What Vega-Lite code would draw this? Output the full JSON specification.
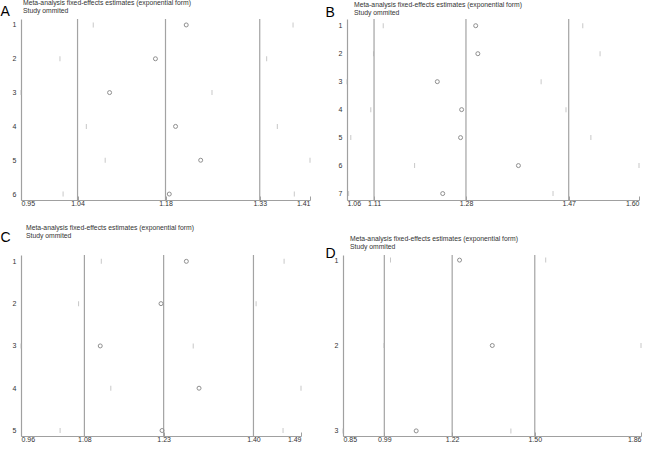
{
  "$schema": "https://vega.github.io/schema/vega-lite/v6.json",
  "padding": 0,
  "background": "white",
  "datasets": {
    "A": [
      {"study": 1, "lower": 1.065, "est": 1.213, "upper": 1.383},
      {"study": 2, "lower": 1.012, "est": 1.164, "upper": 1.341},
      {"study": 3, "lower": 0.95, "est": 1.091, "upper": 1.254},
      {"study": 4, "lower": 1.054, "est": 1.196, "upper": 1.358},
      {"study": 5, "lower": 1.084, "est": 1.236, "upper": 1.41},
      {"study": 6, "lower": 1.017, "est": 1.186, "upper": 1.385}
    ],
    "Aref": [{"ref": 1.04}, {"ref": 1.18}, {"ref": 1.33}],
    "B": [
      {"study": 1, "lower": 1.127, "est": 1.298, "upper": 1.496},
      {"study": 2, "lower": 1.109, "est": 1.302, "upper": 1.528},
      {"study": 3, "lower": 1.06, "est": 1.227, "upper": 1.419},
      {"study": 4, "lower": 1.104, "est": 1.272, "upper": 1.465},
      {"study": 5, "lower": 1.067, "est": 1.27, "upper": 1.511},
      {"study": 6, "lower": 1.185, "est": 1.377, "upper": 1.6},
      {"study": 7, "lower": 1.063, "est": 1.237, "upper": 1.441}
    ],
    "Bref": [{"ref": 1.11}, {"ref": 1.28}, {"ref": 1.47}],
    "C": [
      {"study": 1, "lower": 1.112, "est": 1.273, "upper": 1.458},
      {"study": 2, "lower": 1.069, "est": 1.225, "upper": 1.405},
      {"study": 3, "lower": 0.96, "est": 1.11, "upper": 1.286},
      {"study": 4, "lower": 1.13, "est": 1.297, "upper": 1.49},
      {"study": 5, "lower": 1.034, "est": 1.227, "upper": 1.456}
    ],
    "Cref": [{"ref": 1.08}, {"ref": 1.23}, {"ref": 1.4}],
    "D": [
      {"study": 1, "lower": 1.011, "est": 1.245, "upper": 1.537},
      {"study": 2, "lower": 0.989, "est": 1.356, "upper": 1.86},
      {"study": 3, "lower": 0.85, "est": 1.098, "upper": 1.419}
    ],
    "Dref": [{"ref": 0.99}, {"ref": 1.22}, {"ref": 1.5}]
  },
  "spacing": 19,
  "vconcat": [
    {
      "bounds": "flush",
      "spacing": 37,
      "hconcat": [
        {
          "width": 289, "height": 181,
          "title": {"text": "Meta-analysis fixed-effects estimates (exponential form)", "subtitle": "Study ommited", "dx": 2, "offset": -11},
          "layer": [
            {"data": {"name": "Aref"}, "mark": {"type": "rule", "color": "#a3a3a3", "strokeWidth": 1.2},
             "encoding": {"x": {"field": "ref", "type": "quantitative", "scale": {"domain": [0.95, 1.41], "nice": false, "zero": false},
               "axis": {"values": [0.95, 1.04, 1.18, 1.33, 1.41], "format": ".2f", "title": null}}}},
            {"data": {"name": "A"}, "mark": {"type": "tick", "orient": "vertical", "size": 5, "thickness": 1, "color": "#b0b0b0"},
             "encoding": {"x": {"field": "lower", "type": "quantitative"},
               "y": {"field": "study", "type": "quantitative", "scale": {"domain": [0.824, 6.176], "reverse": true, "nice": false, "zero": false},
                 "axis": {"values": [1, 2, 3, 4, 5, 6], "format": "d", "labelOverlap": false, "title": "A", "titleX": -21, "titleY": -4}}}},
            {"data": {"name": "A"}, "mark": {"type": "tick", "orient": "vertical", "size": 5, "thickness": 1, "color": "#b0b0b0"},
             "encoding": {"x": {"field": "upper", "type": "quantitative"},
               "y": {"field": "study", "type": "quantitative", "axis": {"values": [1, 2, 3, 4, 5, 6], "format": "d", "labelOverlap": false, "title": "A", "titleX": -21, "titleY": -4}}}},
            {"data": {"name": "A"}, "mark": {"type": "point", "shape": "circle", "filled": false, "size": 16, "strokeWidth": 1, "color": "#8f8f8f", "opacity": 1},
             "encoding": {"x": {"field": "est", "type": "quantitative"},
               "y": {"field": "study", "type": "quantitative", "axis": {"values": [1, 2, 3, 4, 5, 6], "format": "d", "labelOverlap": false, "title": "A", "titleX": -21, "titleY": -4}}}}
          ]
        },
        {
          "width": 292, "height": 181,
          "title": {"text": "Meta-analysis fixed-effects estimates (exponential form)", "subtitle": "Study ommited", "dx": 7, "offset": -12},
          "layer": [
            {"data": {"name": "Bref"}, "mark": {"type": "rule", "color": "#a3a3a3", "strokeWidth": 1.2},
             "encoding": {"x": {"field": "ref", "type": "quantitative", "scale": {"domain": [1.06, 1.6], "nice": false, "zero": false},
               "axis": {"values": [1.06, 1.11, 1.28, 1.47, 1.6], "format": ".2f", "title": null}}}},
            {"data": {"name": "B"}, "mark": {"type": "tick", "orient": "vertical", "size": 5, "thickness": 1, "color": "#b0b0b0"},
             "encoding": {"x": {"field": "lower", "type": "quantitative"},
               "y": {"field": "study", "type": "quantitative", "scale": {"domain": [0.76, 7.23], "reverse": true, "nice": false, "zero": false},
                 "axis": {"values": [1, 2, 3, 4, 5, 6, 7], "format": "d", "labelOverlap": false, "title": "B", "titleX": -22, "titleY": -3}}}},
            {"data": {"name": "B"}, "mark": {"type": "tick", "orient": "vertical", "size": 5, "thickness": 1, "color": "#b0b0b0"},
             "encoding": {"x": {"field": "upper", "type": "quantitative"},
               "y": {"field": "study", "type": "quantitative", "axis": {"values": [1, 2, 3, 4, 5, 6, 7], "format": "d", "labelOverlap": false, "title": "B", "titleX": -22, "titleY": -3}}}},
            {"data": {"name": "B"}, "mark": {"type": "point", "shape": "circle", "filled": false, "size": 16, "strokeWidth": 1, "color": "#8f8f8f", "opacity": 1},
             "encoding": {"x": {"field": "est", "type": "quantitative"},
               "y": {"field": "study", "type": "quantitative", "axis": {"values": [1, 2, 3, 4, 5, 6, 7], "format": "d", "labelOverlap": false, "title": "B", "titleX": -22, "titleY": -3}}}}
          ]
        }
      ]
    },
    {
      "bounds": "flush",
      "spacing": 42,
      "hconcat": [
        {
          "width": 280, "height": 181,
          "title": {"text": "Meta-analysis fixed-effects estimates (exponential form)", "subtitle": "Study ommited", "dx": 5, "offset": -10},
          "layer": [
            {"data": {"name": "Cref"}, "mark": {"type": "rule", "color": "#a3a3a3", "strokeWidth": 1.2},
             "encoding": {"x": {"field": "ref", "type": "quantitative", "scale": {"domain": [0.96, 1.49], "nice": false, "zero": false},
               "axis": {"values": [0.96, 1.08, 1.23, 1.4, 1.49], "format": ".2f", "title": null}}}},
            {"data": {"name": "C"}, "mark": {"type": "tick", "orient": "vertical", "size": 5, "thickness": 1, "color": "#b0b0b0"},
             "encoding": {"x": {"field": "lower", "type": "quantitative"},
               "y": {"field": "study", "type": "quantitative", "scale": {"domain": [0.85, 5.13], "reverse": true, "nice": false, "zero": false},
                 "axis": {"values": [1, 2, 3, 4, 5], "format": "d", "labelOverlap": false, "title": "C", "titleX": -21, "titleY": -14}}}},
            {"data": {"name": "C"}, "mark": {"type": "tick", "orient": "vertical", "size": 5, "thickness": 1, "color": "#b0b0b0"},
             "encoding": {"x": {"field": "upper", "type": "quantitative"},
               "y": {"field": "study", "type": "quantitative", "axis": {"values": [1, 2, 3, 4, 5], "format": "d", "labelOverlap": false, "title": "C", "titleX": -21, "titleY": -14}}}},
            {"data": {"name": "C"}, "mark": {"type": "point", "shape": "circle", "filled": false, "size": 16, "strokeWidth": 1, "color": "#8f8f8f", "opacity": 1},
             "encoding": {"x": {"field": "est", "type": "quantitative"},
               "y": {"field": "study", "type": "quantitative", "axis": {"values": [1, 2, 3, 4, 5], "format": "d", "labelOverlap": false, "title": "C", "titleX": -21, "titleY": -14}}}}
          ]
        },
        {
          "width": 298, "height": 181,
          "title": {"text": "Meta-analysis fixed-effects estimates (exponential form)", "subtitle": "Study ommited", "dx": 7, "offset": -5},
          "layer": [
            {"data": {"name": "Dref"}, "mark": {"type": "rule", "color": "#a3a3a3", "strokeWidth": 1.2},
             "encoding": {"x": {"field": "ref", "type": "quantitative", "scale": {"domain": [0.85, 1.86], "nice": false, "zero": false},
               "axis": {"values": [0.85, 0.99, 1.22, 1.5, 1.86], "format": ".2f", "title": null}}}},
            {"data": {"name": "D"}, "mark": {"type": "tick", "orient": "vertical", "size": 5, "thickness": 1, "color": "#b0b0b0"},
             "encoding": {"x": {"field": "lower", "type": "quantitative"},
               "y": {"field": "study", "type": "ordinal", "scale": {"type": "point", "padding": 0.06},
                 "axis": {"labelOverlap": false, "labelAngle": 0, "title": "D", "titleX": -18, "titleY": 2}}}},
            {"data": {"name": "D"}, "mark": {"type": "tick", "orient": "vertical", "size": 5, "thickness": 1, "color": "#b0b0b0"},
             "encoding": {"x": {"field": "upper", "type": "quantitative"},
               "y": {"field": "study", "type": "ordinal", "axis": {"labelOverlap": false, "labelAngle": 0, "title": "D", "titleX": -18, "titleY": 2}}}},
            {"data": {"name": "D"}, "mark": {"type": "point", "shape": "circle", "filled": false, "size": 16, "strokeWidth": 1, "color": "#8f8f8f", "opacity": 1},
             "encoding": {"x": {"field": "est", "type": "quantitative"},
               "y": {"field": "study", "type": "ordinal", "axis": {"labelOverlap": false, "labelAngle": 0, "title": "D", "titleX": -18, "titleY": 2}}}}
          ]
        }
      ]
    }
  ],
  "config": {
    "view": {"stroke": null},
    "font": "Liberation Sans",
    "title": {"anchor": "start", "frame": "group", "font": "Liberation Sans", "fontSize": 6.8, "fontWeight": "normal", "color": "#333333",
      "subtitleFont": "Liberation Sans", "subtitleFontSize": 6.8, "subtitleColor": "#333333", "subtitlePadding": 1},
    "axis": {"grid": false, "domainColor": "#a0a0a0", "domainWidth": 1.2, "labelFont": "Liberation Sans", "labelFontSize": 7, "labelColor": "#333333",
      "titleFont": "Liberation Sans", "titleFontSize": 14, "titleFontWeight": "normal", "titleColor": "#000000"},
    "axisX": {"tickColor": "#a0a0a0", "tickSize": -4, "labelPadding": 3},
    "axisY": {"ticks": false, "labelPadding": 5, "titleAngle": 0, "titleAlign": "left", "titleBaseline": "alphabetic"}
  }
}
